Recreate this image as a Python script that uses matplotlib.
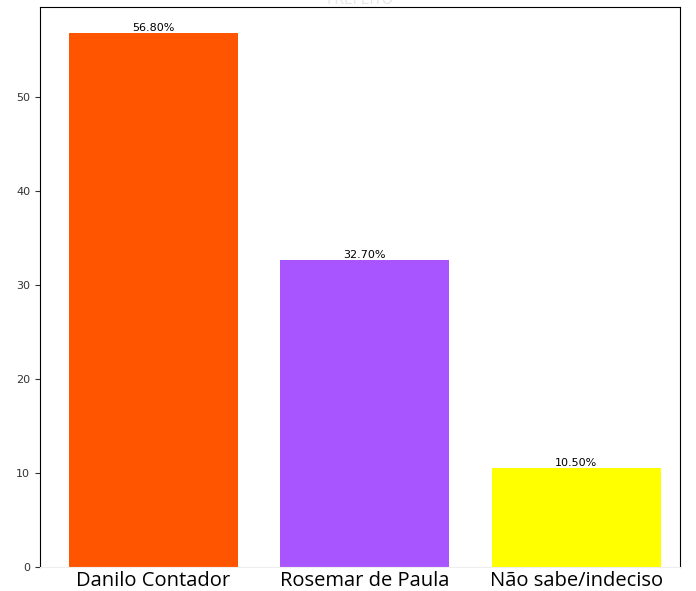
import matplotlib.pyplot as plt

# Data
candidatos = ["Danilo Contador", "Rosemar de Paula", "Não sabe/indeciso"]
percentuais = [56.8, 32.7, 10.5]
cores = ["#FF5500", "#A855FF", "#FFFF00"]

fig = plt.figure(figsize=(6.96, 5.91), dpi=100)
ax = fig.add_axes([0.0575, 0.0406, 0.919, 0.948])

barras = ax.bar(candidatos, percentuais, color=cores, width=0.8)

# Percentage labels above each bar
for b, v in zip(barras, percentuais):
    ax.text(b.get_x() + b.get_width() / 2, v, f"{v:.2f}%",
            ha="center", va="bottom", fontsize=8)

ax.set_xlim(-0.537, 2.49)
ax.set_title("PREFEITO", color="#e6e6e6", fontsize=10, pad=2)
ax.tick_params(axis="y", labelsize=8, colors="#333333")
ax.tick_params(axis="x", labelsize=14.5, length=0, pad=3)
for lbl in ax.get_xticklabels():
    lbl.set_family(["Open Sans", "DejaVu Sans"])
ax.spines["bottom"].set_color("#eeeeee")

fig.savefig("out.png", dpi=100)
